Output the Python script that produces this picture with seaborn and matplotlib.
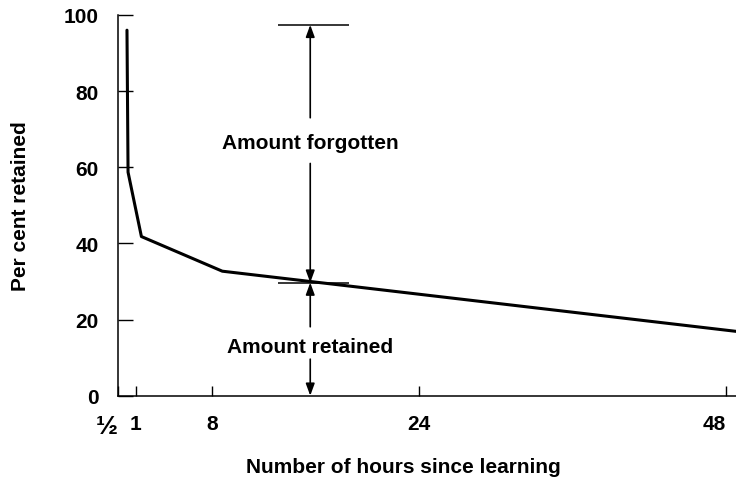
import numpy as np
import matplotlib
matplotlib.use("Agg")
import matplotlib.pyplot as plt
import seaborn as sns

# Data
hours = [0.75, 0.78, 1.5, 8.8, 48.8]
retained = [96, 58.7, 41.8, 32.7, 16.9]

tick_hours = [0.5, 1, 8, 24, 48]
tick_labels = ['½', '1', '8', '24', '48']
y_ticks = [0, 20, 40, 60, 80, 100]

# annotation values
marker_hour = 15.6
bar_from, bar_to = 13.1, 18.6
top_level = 97.4
curve_level = 29.7
forgotten_text_y = 66.5
retained_text_y = 13.0

# the printed axis is not evenly spaced near the origin; mimic it with a
# piecewise-linear scale anchored on the tick marks
anchor_hours = [0, 0.5, 1, 8, 24, 48, 60]
anchor_pos = [100, 118, 136, 212, 419, 726, 879.5]


def fwd(x):
    return np.interp(x, anchor_hours, anchor_pos)


def inv(p):
    return np.interp(p, anchor_pos, anchor_hours)


sns.set_theme(style='ticks')
plt.rcParams['font.family'] = ['Liberation Sans', 'DejaVu Sans']
plt.rcParams['font.weight'] = 'bold'
plt.rcParams['text.color'] = 'black'
plt.rcParams['axes.labelcolor'] = 'black'

fig = plt.figure(figsize=(7.36, 4.81), dpi=100)
ax = fig.add_axes([0.1603, 0.1753, 0.8397, 0.7915])

sns.lineplot(x=hours, y=retained, ax=ax, color='black', linewidth=2.2,
             estimator=None, sort=False)

ax.set_xscale('function', functions=(fwd, inv))
ax.set_xlim(0.5, 48.8)
ax.set_ylim(0, 100)

ax.set_xticks(tick_hours, tick_labels)
ax.set_yticks(y_ticks)
ax.tick_params(axis='both', direction='in', width=1, colors='black',
               labelsize=15)
ax.tick_params(axis='y', length=11, pad=14)
ax.tick_params(axis='x', length=7.5, pad=13)
for lab in ax.get_xticklabels() + ax.get_yticklabels():
    lab.set_fontweight('bold')
half = ax.get_xticklabels()[0]
half.set_horizontalalignment('right')
half.set_fontsize(19)
ax.get_xticklabels()[-1].set_horizontalalignment('right')

sns.despine(ax=ax)
for s in ['left', 'bottom']:
    ax.spines[s].set_linewidth(1.1)
    ax.spines[s].set_color('black')

ax.set_xlabel('Number of hours since learning', fontsize=15, fontweight='bold')
ax.set_ylabel('Per cent retained', fontsize=15, fontweight='bold')
ax.xaxis.set_label_coords(0.461, -0.16)
ax.yaxis.set_label_coords(-0.143, 0.5)

# bars and arrows
ax.hlines([top_level, curve_level], bar_from, bar_to, color='black', linewidth=1.1)
arrow = dict(arrowstyle='-|>,head_length=0.6,head_width=0.22', color='black',
             lw=1.2, shrinkA=0, shrinkB=0)
ax.annotate('', xy=(marker_hour, top_level), xytext=(marker_hour, 73), arrowprops=arrow)
ax.annotate('', xy=(marker_hour, curve_level), xytext=(marker_hour, 61), arrowprops=arrow)
ax.annotate('', xy=(marker_hour, curve_level), xytext=(marker_hour, 18.1), arrowprops=arrow)
ax.annotate('', xy=(marker_hour, 0), xytext=(marker_hour, 9.6), arrowprops=arrow)

ax.text(marker_hour, forgotten_text_y, 'Amount forgotten', ha='center', va='center',
        fontsize=15, fontweight='bold')
ax.text(marker_hour, retained_text_y, 'Amount retained', ha='center', va='center',
        fontsize=15, fontweight='bold')

fig.savefig('out.png', dpi=100)
